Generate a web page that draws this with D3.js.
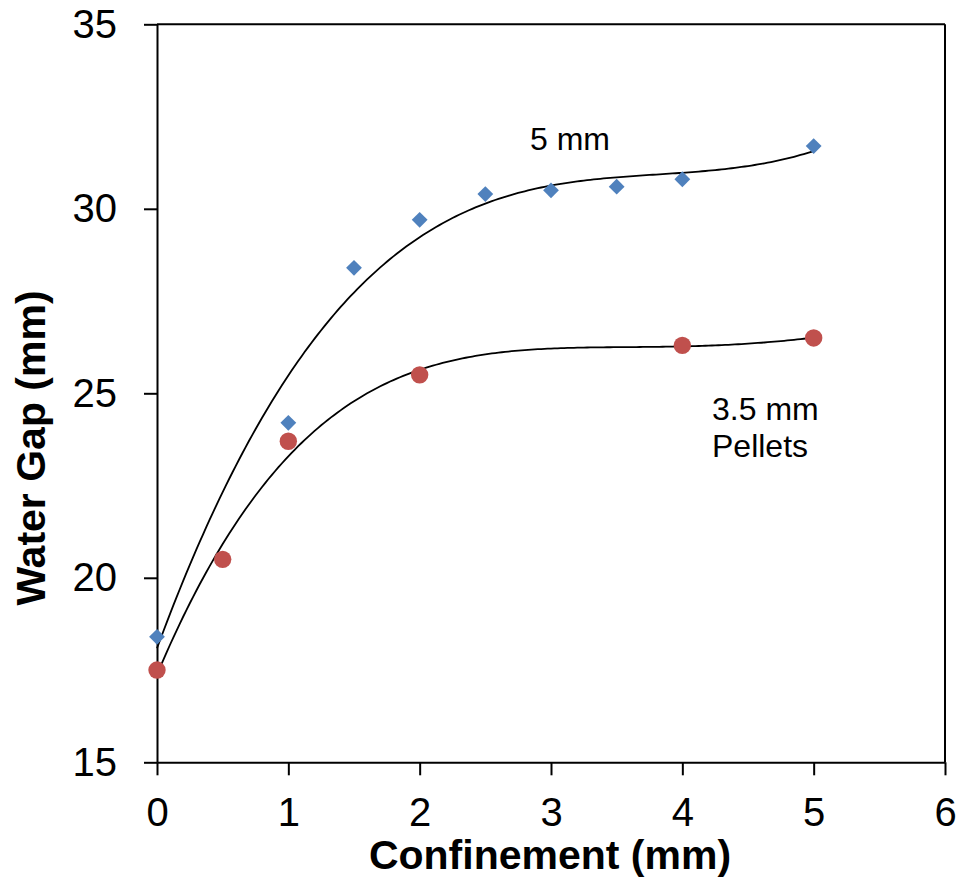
<!DOCTYPE html>
<html>
<head>
<meta charset="utf-8">
<script src="https://cdn.jsdelivr.net/npm/d3@7"></script>
<style>
  body { margin: 0; background: #fff; }
  text { font-family: "Liberation Sans", Arial, sans-serif; }
</style>
</head>
<body>
<div id="chart"></div>
<script>
// data
const xPellet5 = [0, 1, 1.5, 2, 2.5, 3, 3.5, 4, 5];
const yPellet5 = [18.4, 24.2, 28.4, 29.7, 30.4, 30.5, 30.6, 30.8, 31.7];
const xPellet35 = [0, 0.5, 1, 2, 4, 5];
const yPellet35 = [17.5, 20.5, 23.7, 25.5, 26.3, 26.5];
const xTicks = [0, 1, 2, 3, 4, 5, 6];
const yTicks = [15, 20, 25, 30, 35];
// polynomial trendline orders
const order5 = 3;
const order35 = 4;

const width = 957, height = 881;
const margin = { top: 24.3, right: 12, bottom: 118.7, left: 157 };
const innerWidth = width - margin.left - margin.right;
const innerHeight = height - margin.top - margin.bottom;

const svg = d3.select("#chart").append("svg")
    .attr("width", width)
    .attr("height", height);

const g = svg.append("g")
    .attr("transform", `translate(${margin.left}, ${margin.top})`);

const x = d3.scaleLinear().domain([0, 6]).range([0, innerWidth]);
const y = d3.scaleLinear().domain([15, 35]).range([innerHeight, 0]);

// least squares polynomial fit (like the spreadsheet trendline)
function polyfit(xs, ys, order) {
    const n = order + 1;
    const A = [];
    for (let i = 0; i < n; i++) {
        A.push([]);
        for (let j = 0; j < n; j++) A[i].push(d3.sum(xs, v => Math.pow(v, i + j)));
        A[i].push(d3.sum(xs, (v, k) => ys[k] * Math.pow(v, i)));
    }
    for (let c = 0; c < n; c++) {
        let p = c;
        for (let r = c + 1; r < n; r++) if (Math.abs(A[r][c]) > Math.abs(A[p][c])) p = r;
        [A[c], A[p]] = [A[p], A[c]];
        for (let r = 0; r < n; r++) {
            if (r === c) continue;
            const f = A[r][c] / A[c][c];
            for (let k = c; k <= n; k++) A[r][k] -= f * A[c][k];
        }
    }
    const coef = A.map((row, i) => row[n] / row[i]);
    return v => d3.sum(coef, (cf, i) => cf * Math.pow(v, i));
}

// frame (top + right)
g.append("line").attr("x1", 0).attr("x2", innerWidth).attr("y1", 0).attr("y2", 0)
    .attr("stroke", "#000").attr("stroke-width", 2);
g.append("line").attr("x1", innerWidth).attr("x2", innerWidth).attr("y1", 0).attr("y2", innerHeight)
    .attr("stroke", "#000").attr("stroke-width", 2);

// axes
const xAxis = g.append("g")
    .attr("transform", `translate(0, ${innerHeight})`)
    .call(d3.axisBottom(x).tickValues(xTicks).tickFormat(d3.format("d"))
        .tickSizeInner(13).tickSizeOuter(0).tickPadding(22));

const yAxis = g.append("g")
    .call(d3.axisLeft(y).tickValues(yTicks).tickFormat(d3.format("d"))
        .tickSizeInner(13).tickSizeOuter(0).tickPadding(27));

[xAxis, yAxis].forEach(a => {
    a.select(".domain").attr("stroke", "#000").attr("stroke-width", 2);
    a.selectAll(".tick line").attr("stroke", "#000").attr("stroke-width", 2);
    a.selectAll(".tick text").attr("fill", "#000")
        .style("font-size", "40px").style("font-family", "'Liberation Sans', Arial, sans-serif");
});

// trendlines
const line = d3.line().x(d => x(d[0])).y(d => y(d[1]));
[[xPellet5, yPellet5, order5], [xPellet35, yPellet35, order35]].forEach(([xs, ys, ord]) => {
    const f = polyfit(xs, ys, ord);
    const pts = d3.range(0, 200 + 1).map(i => {
        const v = d3.min(xs) + (d3.max(xs) - d3.min(xs)) * i / 200;
        return [v, f(v)];
    });
    g.append("path").datum(pts)
        .attr("d", line)
        .attr("fill", "none")
        .attr("stroke", "#000")
        .attr("stroke-width", 1.8);
});

// markers
const diamond = d3.symbol().type(d3.symbolSquare).size(125);
g.selectAll(".dia")
    .data(xPellet5.map((v, i) => [v, yPellet5[i]]))
    .enter().append("path")
    .attr("class", "dia")
    .attr("d", diamond)
    .attr("transform", d => `translate(${x(d[0])}, ${y(d[1])}) rotate(45)`)
    .attr("fill", "#4F81BD");

g.selectAll(".dot")
    .data(xPellet35.map((v, i) => [v, yPellet35[i]]))
    .enter().append("circle")
    .attr("class", "dot")
    .attr("cx", d => x(d[0]))
    .attr("cy", d => y(d[1]))
    .attr("r", 8.7)
    .attr("fill", "#C0504D");

// series labels
svg.append("text")
    .attr("x", 530).attr("y", 150)
    .style("font-size", "32px")
    .text("5 mm");

const lab = svg.append("text")
    .attr("x", 712).attr("y", 420)
    .style("font-size", "32px");
lab.append("tspan").attr("x", 712).text("3.5 mm");
lab.append("tspan").attr("x", 712).attr("y", 457).text("Pellets");

// axis titles
svg.append("text")
    .attr("x", 550).attr("y", 869)
    .attr("text-anchor", "middle")
    .style("font-size", "41px").style("font-weight", "bold")
    .text("Confinement (mm)");

svg.append("text")
    .attr("transform", "translate(45, 448) rotate(-90)")
    .attr("text-anchor", "middle")
    .style("font-size", "41px").style("font-weight", "bold")
    .text("Water Gap (mm)");
</script>
</body>
</html>
